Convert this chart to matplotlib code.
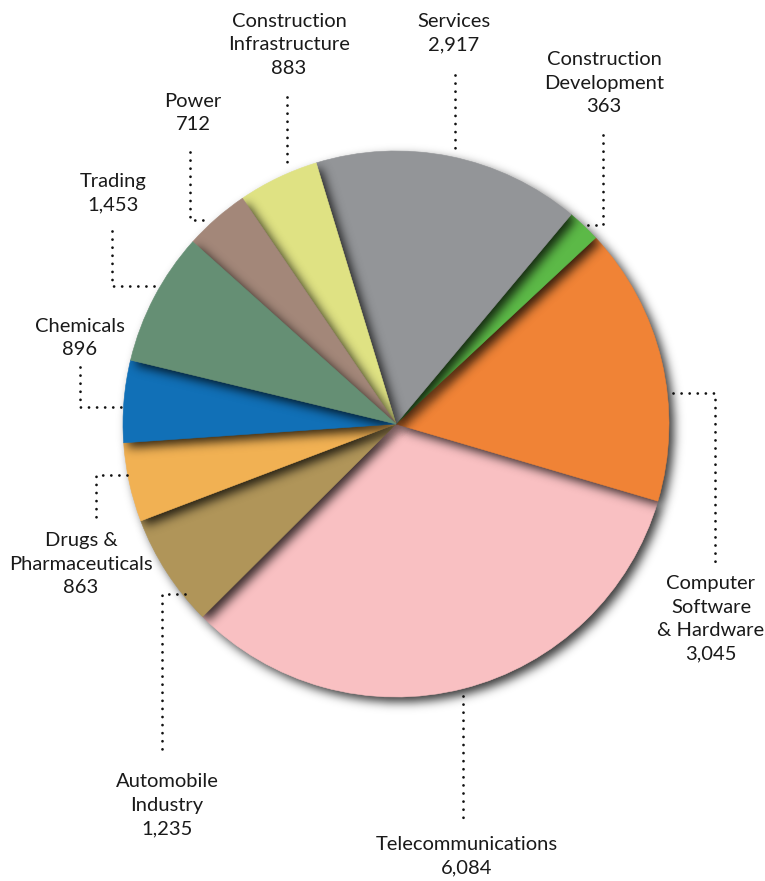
import numpy as np
import matplotlib.pyplot as plt

plt.rcParams['font.family'] = ['Lato', 'DejaVu Sans']

# --- data ---
labels = ["Services", "Construction\nDevelopment", "Computer\nSoftware\n& Hardware",
          "Telecommunications", "Automobile\nIndustry", "Drugs &\nPharmaceuticals",
          "Chemicals", "Trading", "Power", "Construction\nInfrastructure"]
values = [2917, 363, 3045, 6084, 1235, 863, 896, 1453, 712, 883]
colors = ["#939598", "#5cb947", "#f08336", "#f9c0c2", "#b09559",
          "#f1b153", "#1170b7", "#658f74", "#a38779", "#dfe283"]

# drawing order (bottom -> top) so the soft shadows fall the right way
stack = [3, 2, 1, 0, 9, 8, 4, 5, 6, 7]

# --- layout (pixel coords, y from top) ---
W, H = 765, 881
cx, cy, R = 396, 424, 273
text_pos = [(454, 33), (604, 83), (711, 619), (467, 856), (167, 805),
            (81, 564), (80, 338), (113, 193), (193, 113), (289, 45)]
leaders = [
    [(455, 75), (455, 153)],
    [(603, 135), (603, 225), (585, 225)],
    [(673, 393), (715, 393), (715, 563)],
    [(463, 696), (463, 820)],
    [(185, 594), (162, 594), (162, 752)],
    [(127, 475), (96, 475), (96, 522)],
    [(80, 367), (80, 407), (125, 407)],
    [(112, 231), (112, 286), (158, 286)],
    [(190, 152), (190, 220), (207, 220)],
    [(287, 97), (287, 168)],
]


def blur(img, sigma):
    ny, nx = img.shape
    ky = np.fft.fftfreq(ny)
    kx = np.fft.rfftfreq(nx)
    g = np.exp(-2 * (np.pi * sigma) ** 2 * (ky[:, None] ** 2 + kx[None, :] ** 2))
    return np.fft.irfft2(np.fft.rfft2(img) * g, s=img.shape)


fig = plt.figure(figsize=(W / 100, H / 100), dpi=100)
ax = fig.add_axes([0, 0, 1, 1])

wedges, _ = ax.pie(values, colors=colors, startangle=107, counterclock=False,
                   center=(cx, H - cy), radius=R, frame=True,
                   wedgeprops=dict(linewidth=0.4))
for w, c in zip(wedges, colors):
    w.set_edgecolor(c)

# soft drop shadows, one per wedge
xs = np.arange(W) + 0.5
ys = np.arange(H) + 0.5
X, Y = np.meshgrid(xs, ys)
dx, dy = 5, -5
rr = np.hypot(X - cx - dx, Y - (H - cy) - dy)
ang = np.degrees(np.arctan2(Y - (H - cy) - dy, X - cx - dx)) % 360

for k, i in enumerate(stack):
    w = wedges[i]
    t1, t2 = w.theta1, w.theta2
    mask = ((rr <= R) & (((ang - t1) % 360) <= (t2 - t1))).astype(float)
    a = np.clip(blur(mask, 5), 0, 1) * 0.78
    rgba = np.zeros((H, W, 4))
    rgba[..., 3] = a
    ax.imshow(rgba, origin='lower', extent=(0, W, 0, H), zorder=2 * k + 1,
              interpolation='bilinear')
    w.set_zorder(2 * k + 2)

# labels and dotted leaders
for i, lab in enumerate(labels):
    tx, ty = text_pos[i]
    ax.text(tx, H - ty, f"{lab}\n{values[i]:,}", ha='center', va='center',
            fontsize=14.5, color='#1a1a1a', linespacing=1.46, zorder=40)
    pts = np.array(leaders[i], dtype=float)
    ax.plot(pts[:, 0], H - pts[:, 1], color='#111111', lw=2.0,
            linestyle=(0, (0.01, 2.9)), dash_capstyle='round', zorder=41)

ax.set_xlim(0, W)
ax.set_ylim(0, H)
ax.set_aspect('equal')
ax.axis('off')

plt.savefig("out.png", dpi=100)
plt.close()
